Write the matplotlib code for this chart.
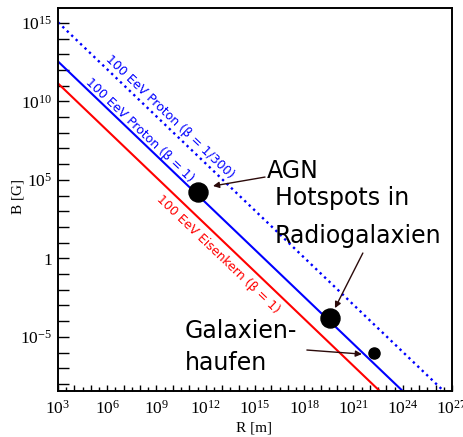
import numpy as np
import matplotlib
matplotlib.use('Agg')
import matplotlib.pyplot as plt
from matplotlib.ticker import FixedLocator, FuncFormatter, NullFormatter

plt.rcParams['mathtext.fontset'] = 'custom'
plt.rcParams['mathtext.rm'] = 'Liberation Serif'
plt.rcParams['mathtext.it'] = 'Liberation Serif:italic'
plt.rcParams['mathtext.bf'] = 'Liberation Serif:bold'

# ---- data ----
R_line = [1e3, 1e27]
B_proton = [3.5e12, 3.5e-12]        # 100 EeV proton, beta = 1
B_proton_slow = [1.1e15, 1.1e-9]    # 100 EeV proton, beta = 1/300
B_iron = [1.4e11, 1.4e-13]          # 100 EeV iron, beta = 1

line_names = ['100 EeV Proton (β = 1/300)', '100 EeV Proton (β = 1)',
              '100 EeV Eisenkern (β = 1)']
line_label_R = [10**5.63, 10**4.50, 10**9.66]
line_label_off = [5.0, 3.0, -16.8]   # px, perpendicular offset of baseline

sources = ['AGN', 'Hotspots', 'Galaxienhaufen']
R_src = [3.5e11, 3.7e19, 1.7e22]
B_src = [1.7e4, 1.6e-4, 1.0e-6]
msize_src = [13.7, 13.7, 8.0]

src_text = [['AGN'], ['Hotspots in', 'Radiogalaxien'], ['Galaxien-', 'haufen']]
src_text_R = [[10**15.73], [10**16.22, 10**16.22], [10**10.73, 10**10.73]]
src_text_B = [[10**5.11], [10**3.39, 10**0.97], [10**-5.08, 10**-7.12]]
arrow_tail = [(10**15.61, 10**5.18), (10**21.57, 10**0.34), (10**18.16, 10**-5.84)]
arrow_head = [(10**12.44, 10**4.61), (10**19.87, 10**-3.17), (10**21.51, 10**-6.10)]

x_exps = list(range(3, 28))
y_exps = list(range(-8, 16))

# ---- figure ----
W, H = 463, 437
fig = plt.figure(figsize=(W / 100, H / 100), dpi=100)
ax = fig.add_axes([58 / W, 46 / H, 394 / W, 383 / H])
ax.set_xscale('log')
ax.set_yscale('log')
ax.set_xlim(1e3, 1e27)
ax.set_ylim(10**-8.45, 10**15.95)

ax.plot(R_line, B_proton_slow, color='#0000ff', lw=1.7, ls=(0, (1, 1.6)))
ax.plot(R_line, B_proton, color='#0000ff', lw=1.5)
ax.plot(R_line, B_iron, color='#ff0000', lw=1.5)

for R, B, ms in zip(R_src, B_src, msize_src):
    ax.plot([R], [B], 'o', color='black', ms=ms, zorder=5)

# line labels
fig.canvas.draw()
p = ax.transData.transform([(R_line[0], B_proton[0]), (R_line[1], B_proton[1])])
ang = np.degrees(np.arctan2(p[1, 1] - p[0, 1], p[1, 0] - p[0, 0]))
a = np.radians(ang)
nx, ny = -np.sin(a), np.cos(a)
lines_B = [B_proton_slow, B_proton, B_iron]
colors = ['#0000ff', '#0000ff', '#ff0000']
for name, Rl, off, Bl, c in zip(line_names, line_label_R, line_label_off, lines_B, colors):
    Bv = 10**np.interp(np.log10(Rl), np.log10(R_line), np.log10(Bl))
    ax.annotate(name, xy=(Rl, Bv), xytext=(nx * off * 0.72, ny * off * 0.72),
                textcoords='offset points', rotation=ang, rotation_mode='anchor',
                ha='left', va='baseline', color=c, fontsize=9,
                family='DejaVu Sans')

# source texts and arrows
for texts, Rs, Bs in zip(src_text, src_text_R, src_text_B):
    for t, R, B in zip(texts, Rs, Bs):
        ax.text(R, B, t, fontsize=17, ha='left', va='baseline',
                family='DejaVu Sans', color='black')
for tail, head in zip(arrow_tail, arrow_head):
    ax.annotate('', xy=head, xytext=tail,
                arrowprops=dict(arrowstyle='-|>', color='#2b0a0a', lw=1.0,
                                mutation_scale=9, shrinkA=0, shrinkB=0))

# ticks
def xfmt(v, pos):
    e = int(round(np.log10(v)))
    return r'$10^{%d}$' % e if e % 3 == 0 else ''

def yfmt(v, pos):
    e = int(round(np.log10(v)))
    if e % 5 != 0:
        return ''
    return r'$1$' if e == 0 else r'$10^{%d}$' % e

ax.xaxis.set_major_locator(FixedLocator([10.0**e for e in x_exps]))
ax.xaxis.set_major_formatter(FuncFormatter(xfmt))
ax.xaxis.set_minor_locator(FixedLocator([10.0**(e + 0.5) for e in x_exps[:-1]]))
ax.xaxis.set_minor_formatter(NullFormatter())
ax.yaxis.set_major_locator(FixedLocator([10.0**e for e in y_exps]))
ax.yaxis.set_major_formatter(FuncFormatter(yfmt))
ax.yaxis.set_minor_locator(FixedLocator([]))

ax.tick_params(axis='both', which='both', direction='in', top=False, right=False,
               color='black', width=1.0)
ax.tick_params(axis='x', which='major', length=4.5, pad=6, labelsize=12.5)
ax.tick_params(axis='x', which='minor', length=3)
ax.tick_params(axis='y', which='major', length=8, pad=4, labelsize=12.5)

for s in ax.spines.values():
    s.set_linewidth(1.4)
    s.set_color('black')

ax.set_xlabel('R [m]', fontsize=11, family='Liberation Serif', labelpad=0)
ax.set_ylabel('B [G]', fontsize=11, family='Liberation Serif', labelpad=2)
ax.xaxis.set_label_coords((254 - 58) / 394, -(421 - 391) / 383)
ax.yaxis.set_label_coords(-(58 - 25) / 394, (391 - 196) / 383)

fig.savefig('out.png', dpi=100)
